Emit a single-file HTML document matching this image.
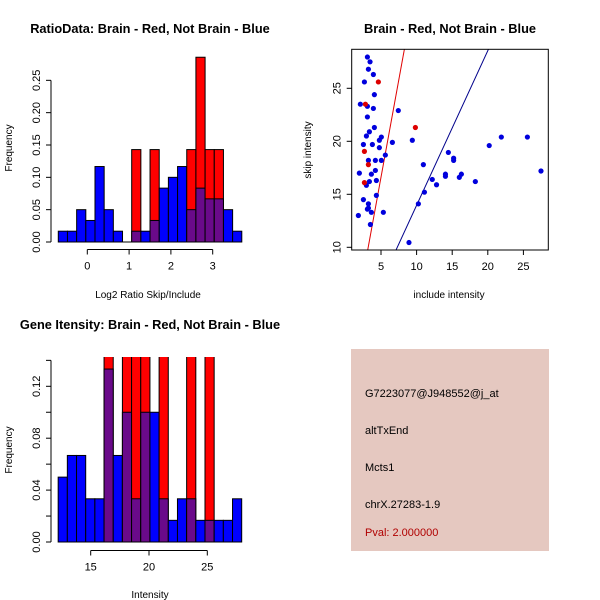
<!DOCTYPE html>
<html><head><meta charset="utf-8"><style>
html,body{margin:0;padding:0;background:#fff}
svg{display:block;font-family:"Liberation Sans",sans-serif}
</style></head><body>
<svg id="s" width="600" height="600" viewBox="0 0 600 600">
<text x="150" y="33" font-size="12.8" font-weight="bold" text-anchor="middle">RatioData: Brain - Red, Not Brain - Blue</text>
<text x="450" y="33" font-size="12.8" font-weight="bold" text-anchor="middle">Brain - Red, Not Brain - Blue</text>
<text x="150" y="329" font-size="12.8" font-weight="bold" text-anchor="middle">Gene Itensity: Brain - Red, Not Brain - Blue</text>
<text x="148" y="298" font-size="10" text-anchor="middle">Log2 Ratio Skip/Include</text>
<text transform="translate(12,148) rotate(-90)" font-size="10" text-anchor="middle">Frequency</text>
<text x="449" y="298" font-size="10" text-anchor="middle">include intensity</text>
<text transform="translate(311,150) rotate(-90)" font-size="10" text-anchor="middle">skip intensity</text>
<text x="150" y="598" font-size="10" text-anchor="middle">Intensity</text>
<text transform="translate(12,450) rotate(-90)" font-size="10" text-anchor="middle">Frequency</text>
<g>
<rect x="351" y="349" width="198" height="202" fill="#e5c8c0"/>
<text x="365" y="397" font-size="11">G7223077@J948552@j_at</text>
<text x="365" y="434" font-size="11">altTxEnd</text>
<text x="365" y="471" font-size="11">Mcts1</text>
<text x="365" y="508" font-size="11">chrX.27283-1.9</text>
<text x="365" y="536" font-size="11" fill="#b00000">Pval: 2.000000</text>
</g>
</svg>
<script>
// ---- data ----
const ratioBinStart = -0.694;
const ratioBinWidth = 0.2195;
const ratioBlue = [0.0167,0.0167,0.05,0.0333,0.1167,0.05,0.0167,0,0.0167,0.0167,0.0333,0.0833,0.1,0.1167,0.05,0.0833,0.0667,0.0667,0.05,0.0167];
const ratioRed  = [0,0,0,0,0,0,0,0,0.1429,0,0.1429,0,0,0,0.1429,0.2857,0.1429,0.1429,0,0];
const ratioYTicks = [0,0.05,0.1,0.15,0.2,0.25];
const ratioXTicks = [0,1,2,3];

const intBinStart = 12.21;
const intBinWidth = 0.787;
const intBlue = [0.05,0.0667,0.0667,0.0333,0.0333,0.1333,0.0667,0.1,0.0333,0.1,0.1,0.0333,0.0167,0.0333,0.0333,0.0167,0.0167,0.0167,0.0167,0.0333];
const intRed  = [0,0,0,0,0,0.2,0,0.2,0.2,0.2,0,0.2,0,0,0.2,0,0.2,0,0,0];
const intYTicks = [0,0.02,0.04,0.06,0.08,0.1,0.12,0.14];
const intYLabels = [0,0.04,0.08,0.12];
const intXTicks = [15,20,25];

const blueX = [3.09,3.46,3.23,3.93,2.67,4.07,2.10,3.09,3.93,3.09,7.43,4.07,3.37,2.95,5.05,4.77,2.53,3.79,4.77,6.60,9.4,4.21,3.23,5.05,5.61,14.46,15.2,15.2,10.95,1.96,4.21,3.65,14.05,14.05,16.29,16.0,18.25,27.47,12.2,12.8,4.35,3.37,2.95,11.1,4.35,2.53,3.23,10.25,3.23,3.09,3.65,5.33,1.82,3.51,8.93,20.2,21.9,25.56];
const blueY = [27.95,27.5,26.8,26.3,25.6,24.4,23.5,23.3,23.1,22.3,22.9,21.3,20.9,20.5,20.4,20.1,19.7,19.7,19.4,19.9,20.1,18.2,18.2,18.2,18.7,18.95,18.4,18.2,17.8,17.0,17.25,16.9,16.9,16.7,16.9,16.6,16.2,17.2,16.4,15.9,16.3,16.2,15.85,15.2,14.9,14.5,14.1,14.1,13.7,13.6,13.3,13.3,13.0,12.15,10.45,19.6,20.4,20.4];
const redX = [4.63,2.81,2.67,3.23,2.67,9.83];
const redY = [25.6,23.5,19.05,17.8,16.1,21.3];
const redLine = [-1.77,3.676];   // intercept, slope
const blueLine = [-0.63,1.459];
const scXTicks = [5,10,15,20,25];
const scYTicks = [10,15,20,25];

const NS = 'http://www.w3.org/2000/svg';
const svg = document.getElementById('s');
function el(tag, attrs, parent){
  const e = document.createElementNS(NS, tag);
  for (const k in attrs) e.setAttribute(k, attrs[k]);
  (parent||svg).appendChild(e);
  return e;
}
function fmt(v, d){ return v.toFixed(d); }

function hist(o){
  const g = el('g', {});
  
  
  const sx = v => o.x0px + (v - o.x0v) * o.xs;
  const sy = v => o.y0px - v * o.ys;
  const clip = el('clipPath', {id: o.name + '-clip'}, g);
  el('rect', {x: 0, y: o.clipTop, width: 300, height: 600}, clip);
  const bars = el('g', {'clip-path': 'url(#' + o.name + '-clip)'}, g);
  for (let i = 0; i < o.blue.length; i++){
    const xa = sx(o.start + i * o.w), xb = sx(o.start + (i + 1) * o.w);
    const b = o.blue[i], r = o.red[i];
    const hi = Math.max(b, r), lo = Math.min(b, r);
    const col = r > b ? '#ff0000' : '#0000ff';
    const bar = el('rect', {x: xa, y: sy(hi), width: xb - xa, height: sy(0) - sy(hi), fill: col, stroke: '#000', 'stroke-width': 1}, bars);
    
    
    if (r > 0 && b > 0){
      const ov = el('rect', {x: xa, y: sy(lo), width: xb - xa, height: sy(0) - sy(lo), fill: '#6a0a8a', stroke: '#000', 'stroke-width': 1}, bars);
      
      
    }
  }
  el('line', {x1: sx(o.start), x2: sx(o.start + o.blue.length * o.w), y1: sy(0), y2: sy(0), stroke: '#000'}, g);
  const yt = o.yTicks;
  el('line', {x1: o.axX, x2: o.axX, y1: sy(yt[0]), y2: sy(yt[yt.length - 1]), stroke: '#000'}, g);
  yt.forEach(v => {
    el('line', {x1: o.axX - 5, x2: o.axX, y1: sy(v), y2: sy(v), stroke: '#000'}, g);
  });
  o.yLabels.forEach(v => {
    const t = el('text', {transform: 'translate(' + (o.axX - 11) + ',' + sy(v) + ') rotate(-90)', 'font-size': 11, 'text-anchor': 'middle'}, g);
    t.textContent = fmt(v, 2);
    
    
  });
  const xt = o.xTicks;
  el('line', {x1: sx(xt[0]), x2: sx(xt[xt.length - 1]), y1: o.axY, y2: o.axY, stroke: '#000'}, g);
  xt.forEach(v => {
    el('line', {x1: sx(v), x2: sx(v), y1: o.axY, y2: o.axY + 5, stroke: '#000'}, g);
    const t = el('text', {x: sx(v), y: o.axY + 20, 'font-size': 11, 'text-anchor': 'middle'}, g);
    t.textContent = v;
    
    
  });
}

hist({name: 'ratio-histogram', blue: ratioBlue, red: ratioRed, start: ratioBinStart, w: ratioBinWidth,
  x0px: 87.3, x0v: 0, xs: 41.8, y0px: 242, ys: 646.7, clipTop: 40,
  yTicks: ratioYTicks, yLabels: ratioYTicks, xTicks: ratioXTicks, axX: 51, axY: 249.5});
hist({name: 'intensity-histogram', blue: intBlue, red: intRed, start: intBinStart, w: intBinWidth,
  x0px: 90.7, x0v: 15, xs: 11.66, y0px: 542, ys: 1297.5, clipTop: 357,
  yTicks: intYTicks, yLabels: intYLabels, xTicks: intXTicks, axX: 51, axY: 550.5});

(function(){
  const g = el('g', {});
  
  
  const L = 351.7, R = 548.3, T = 49.3, B = 250;
  const sx = v => 345.4 + v * 7.12;
  const sy = v => 247.3 - (v - 10) * 10.6;
  const clip = el('clipPath', {id: 'sc-clip'}, g);
  el('rect', {x: L, y: T, width: R - L, height: B - T}, clip);
  const pg = el('g', {'clip-path': 'url(#sc-clip)'}, g);
  [[redLine, '#e00000', 'red-fit-line'], [blueLine, '#00008b', 'blue-fit-line']].forEach(([ln, c, n]) => {
    const xa = 0, xb = 30;
    const l = el('line', {x1: sx(xa), y1: sy(ln[0] + ln[1] * xa), x2: sx(xb), y2: sy(ln[0] + ln[1] * xb), stroke: c, 'stroke-width': 1}, pg);
    
    
  });
  blueX.forEach((x, i) => {
    const p = el('circle', {cx: sx(x), cy: sy(blueY[i]), r: 2.6, fill: '#0000dd'}, pg);
    
    
  });
  redX.forEach((x, i) => {
    const p = el('circle', {cx: sx(x), cy: sy(redY[i]), r: 2.6, fill: '#dd0000'}, pg);
    
    
  });
  el('rect', {x: L, y: T, width: R - L, height: B - T, fill: 'none', stroke: '#000'}, g);
  scXTicks.forEach(v => {
    el('line', {x1: sx(v), x2: sx(v), y1: B, y2: B + 5, stroke: '#000'}, g);
    const t = el('text', {x: sx(v), y: B + 20, 'font-size': 11, 'text-anchor': 'middle'}, g);
    t.textContent = v;
    
    
  });
  scYTicks.forEach(v => {
    el('line', {x1: L - 5, x2: L, y1: sy(v), y2: sy(v), stroke: '#000'}, g);
    const t = el('text', {transform: 'translate(' + (L - 11) + ',' + sy(v) + ') rotate(-90)', 'font-size': 11, 'text-anchor': 'middle'}, g);
    t.textContent = v;
    
    
  });
})();
</script>
</body></html>
